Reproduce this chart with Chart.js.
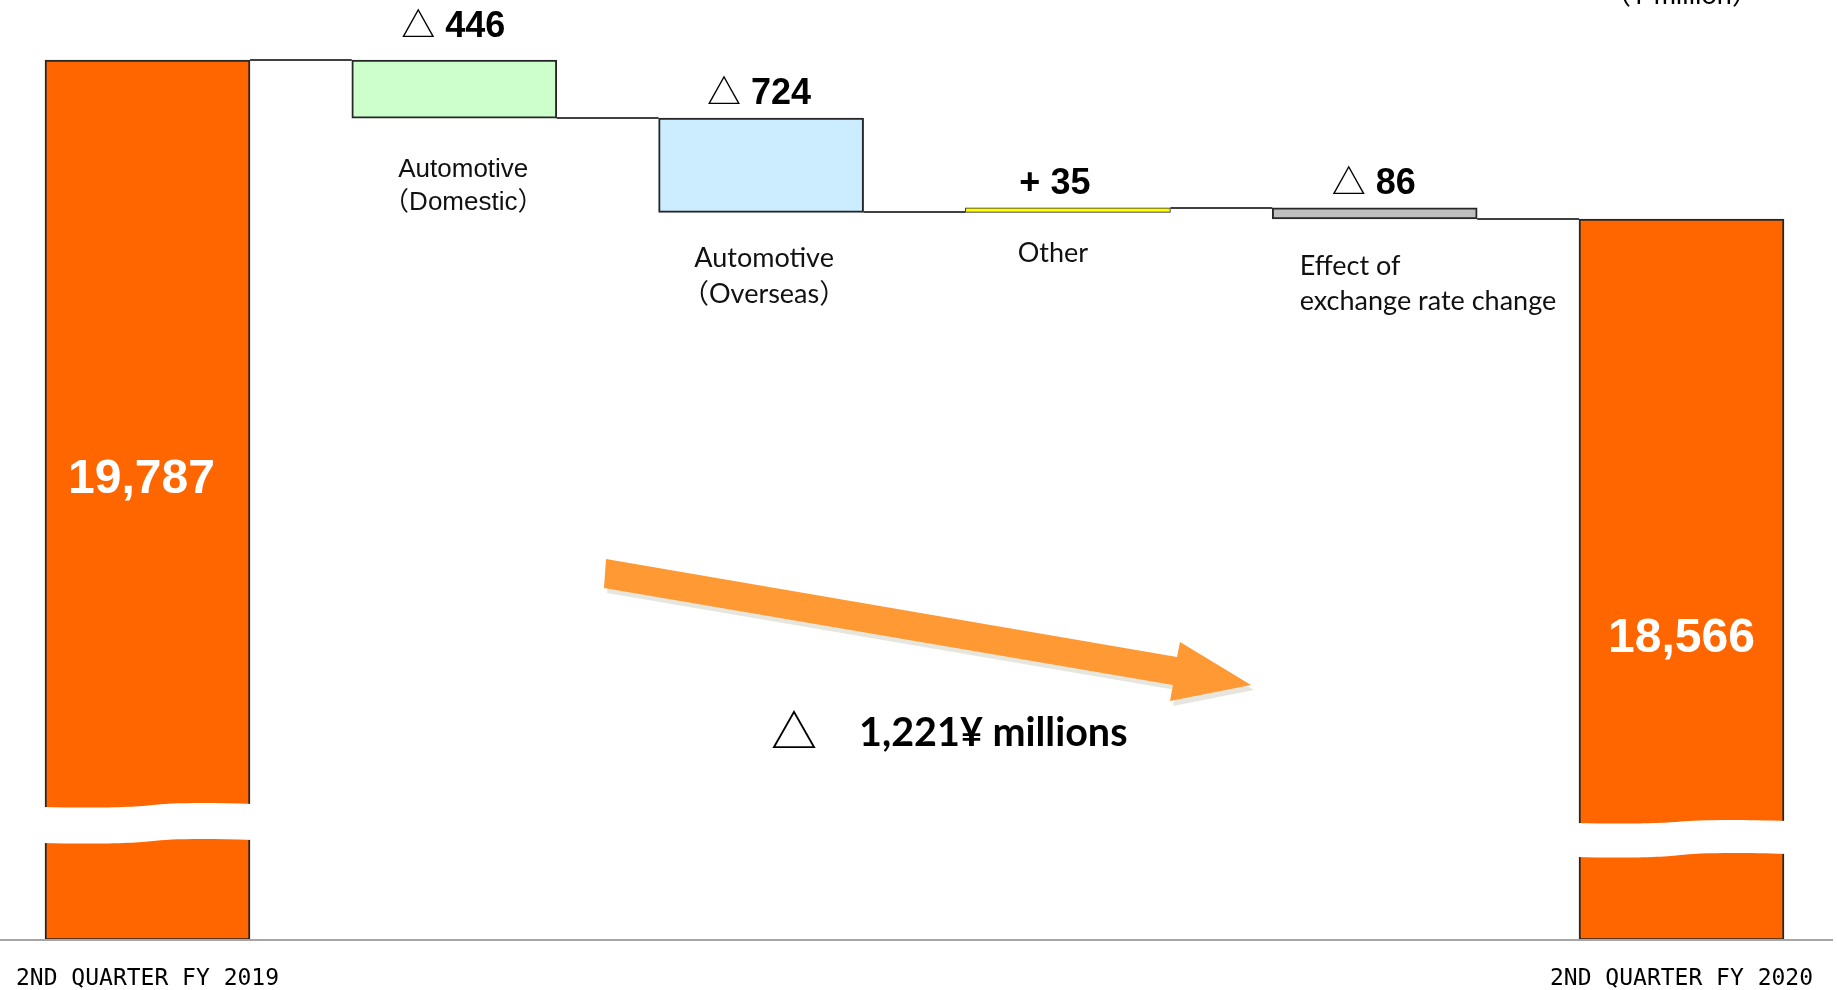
<!DOCTYPE html>
<html>
<head>
<meta charset="utf-8">
<title>Net sales bridge 2Q FY2019 to 2Q FY2020</title>
<script src="https://cdn.jsdelivr.net/npm/chart.js@4.4.1/dist/chart.umd.min.js"></script>
<style>
html,body{margin:0;padding:0;background:#ffffff;overflow:hidden;}
#wrap{position:relative;width:1837px;height:990px;}
canvas{display:block;}
</style>
</head>
<body>
<div id="wrap"><canvas id="chart" width="1837" height="990"></canvas></div>
<script>
// ---------------- data ----------------
const categories = [
  '2ND QUARTER FY 2019',
  'Automotive\n（Domestic）',
  'Automotive\n（Overseas）',
  'Other',
  'Effect of\nexchange rate change',
  '2ND QUARTER FY 2020'
];
const tickLabels = ['2ND QUARTER FY 2019', '', '', '', '', '2ND QUARTER FY 2020'];
const openingTotal = 19787;
const changes = [-446, -724, 35, -86];
const closingTotal = 18566;
const valueLabels = ['19,787', '△ 446', '△ 724', '+ 35', '△ 86', '18,566'];
const totalChangeSymbol = '△';
const totalChangeText = '1,221¥ millions';
const unitLabel = '（¥ million）';

// ---------------- derived series ----------------
const levels = [openingTotal];
changes.forEach(c => levels.push(levels[levels.length - 1] + c));
const barData = [openingTotal]
  .concat(changes.map((c, i) => [levels[i], levels[i + 1]]))
  .concat([closingTotal]);

// ---------------- styles ----------------
const Y_MIN = 13029, Y_MAX = 20248;
const barColors = ['#FF6600', '#CCFFCC', '#CCECFF', '#FFFF00', '#BFBFBF', '#FF6600'];
const barBorders = [2, 2, 2, 1, 2, 2];
const valueGap = [0, 23, 14, 14, 14, 0];
const valueDx = [-6, -1, -2, -13, -1, 0];
const insideLabelOffset = 420;
const catStyle = [
  null,
  {font: '26px "Liberation Sans", "Noto Sans CJK JP", sans-serif', align: 'center', dx: 9, dy: 59, lh: 33},
  {font: '27px Lato, "Noto Sans CJK JP", sans-serif', align: 'center', dx: 3, dy: 55, lh: 36},
  {font: '27px Lato, "Noto Sans CJK JP", sans-serif', align: 'center', dx: -15, dy: 50, lh: 31},
  {font: '27px Lato, "Noto Sans CJK JP", sans-serif', align: 'left', dx: -75, dy: 56, lh: 35},
  null
];
const breakStyle = {
  0: {top: [133, 137], bottom: [97, 101], mid: 5},
  5: {top: [117, 120], bottom: [83, 87], mid: -1}
};
const arrowPts = [[606, 559], [1177, 657], [1180, 642], [1251, 685], [1170, 701], [1173, 685], [604, 588]];

function drawValueLabel(ctx, text, cx, baseline) {
  const boldFont = 'bold 36px "Liberation Sans", Arial, sans-serif';
  const triFont = '500 34px "Noto Sans CJK JP", "DejaVu Sans", sans-serif';
  let tri = '', rest = text;
  if (text.startsWith('△')) { tri = '△'; rest = text.slice(1); }
  ctx.font = triFont;
  const tw = tri ? ctx.measureText(tri).width : 0;
  ctx.font = boldFont;
  const rw = ctx.measureText(rest).width;
  const x = cx - (tw + rw) / 2;
  ctx.fillStyle = '#000';
  ctx.textAlign = 'left';
  if (tri) {
    ctx.font = triFont;
    ctx.textBaseline = 'middle';
    ctx.fillText(tri, x, baseline - 13);
  }
  ctx.font = boldFont;
  ctx.textBaseline = 'alphabetic';
  ctx.fillText(rest, x + tw, baseline);
}

const overlay = {
  id: 'overlay',
  afterDatasetsDraw(chart) {
    const ctx = chart.ctx;
    const ys = chart.scales.y;
    const meta = chart.getDatasetMeta(0);
    const bars = meta.data.map(el => {
      const p = el.getProps(['x', 'y', 'base', 'width'], true);
      return {cx: p.x, left: p.x - p.width / 2, right: p.x + p.width / 2,
              top: Math.min(p.y, p.base), bottom: Math.max(p.y, p.base)};
    });
    ctx.save();

    // connector lines
    ctx.strokeStyle = '#404040';
    ctx.lineWidth = 2;
    for (let i = 0; i < bars.length - 1; i++) {
      const y = Math.round(ys.getPixelForValue(levels[i]));
      ctx.beginPath();
      ctx.moveTo(bars[i].right, y);
      ctx.lineTo(bars[i + 1].left, y);
      ctx.stroke();
    }

    // axis breaks on the total bars
    ctx.fillStyle = '#ffffff';
    Object.keys(breakStyle).forEach(k => {
      const b = bars[+k], s = breakStyle[k];
      const L = b.left - 3, R = b.right + 3, M = b.cx + s.mid;
      const y0 = b.bottom - s.top[0], y1 = b.bottom - s.top[1];
      const y2 = b.bottom - s.bottom[1], y3 = b.bottom - s.bottom[0];
      ctx.beginPath();
      ctx.moveTo(L, y0);
      ctx.bezierCurveTo(L + (M - L) * 0.5, y0 + 1.5, M - 14, y0, M, (y0 + y1) / 2);
      ctx.bezierCurveTo(M + 14, y1, R - (R - M) * 0.5, y1 - 1, R, y1 + 1);
      ctx.lineTo(R, y2 + 1);
      ctx.bezierCurveTo(R - (R - M) * 0.5, y2 - 1, M + 14, y2, M, (y2 + y3) / 2);
      ctx.bezierCurveTo(M - 14, y3, L + (M - L) * 0.5, y3 + 1.5, L, y3);
      ctx.closePath();
      ctx.fill();
    });

    // base line
    const baseY = Math.round(ys.getPixelForValue(Y_MIN));
    ctx.strokeStyle = '#A6A6A6';
    ctx.lineWidth = 2;
    ctx.beginPath();
    ctx.moveTo(0, baseY);
    ctx.lineTo(1833, baseY);
    ctx.stroke();

    // value labels
    bars.forEach((b, i) => {
      if (i === 0 || i === bars.length - 1) {
        ctx.font = 'bold 48px "Liberation Sans", Arial, sans-serif';
        ctx.fillStyle = '#ffffff';
        ctx.textAlign = 'center';
        ctx.textBaseline = 'middle';
        ctx.fillText(valueLabels[i], b.cx + valueDx[i], b.top + insideLabelOffset);
      } else {
        drawValueLabel(ctx, valueLabels[i], b.cx + valueDx[i], b.top - valueGap[i]);
      }
    });

    // category labels under the change bars
    bars.forEach((b, i) => {
      const st = catStyle[i];
      if (!st) return;
      ctx.font = st.font;
      ctx.fillStyle = '#111';
      ctx.textAlign = st.align;
      ctx.textBaseline = 'alphabetic';
      categories[i].split('\n').forEach((line, j) => {
        ctx.fillText(line, b.cx + st.dx, b.bottom + st.dy + j * st.lh);
      });
    });

    // trend arrow with soft shadow
    const poly = (dx, dy) => {
      ctx.beginPath();
      arrowPts.forEach((p, j) => j ? ctx.lineTo(p[0] + dx, p[1] + dy) : ctx.moveTo(p[0] + dx, p[1] + dy));
      ctx.closePath();
    };
    ctx.fillStyle = 'rgba(210,210,195,0.55)';
    poly(3, 5); ctx.fill();
    ctx.fillStyle = '#FF9933';
    poly(0, 0); ctx.fill();

    // total change text
    ctx.fillStyle = '#000';
    ctx.font = '500 46px "Noto Sans CJK JP", "DejaVu Sans", sans-serif';
    ctx.textAlign = 'center';
    ctx.textBaseline = 'middle';
    ctx.fillText(totalChangeSymbol, 794, 731);
    ctx.font = 'bold 39.5px Lato, "Open Sans", sans-serif';
    ctx.textAlign = 'left';
    ctx.textBaseline = 'alphabetic';
    ctx.fillText(totalChangeText, 859, 746);

    // unit label (partly cut by the top edge)
    ctx.font = '27px Lato, "Noto Sans CJK JP", sans-serif';
    ctx.textAlign = 'center';
    ctx.fillText(unitLabel, bars[bars.length - 1].cx, 4);

    ctx.restore();
  }
};

new Chart(document.getElementById('chart'), {
  type: 'bar',
  data: {
    labels: tickLabels,
    datasets: [{
      data: barData,
      backgroundColor: barColors,
      borderColor: '#262626',
      borderWidth: barBorders,
      borderSkipped: false,
      barThickness: 205,
      base: Y_MIN,
      clip: false
    }]
  },
  options: {
    responsive: false,
    animation: false,
    devicePixelRatio: 1,
    layout: {padding: {left: 147.5, right: 155.5, top: 0, bottom: 0}},
    plugins: {legend: {display: false}, tooltip: {enabled: false}},
    scales: {
      x: {
        offset: false,
        grid: {display: false, drawTicks: false},
        border: {display: false},
        ticks: {
          autoSkip: false, maxRotation: 0, minRotation: 0, padding: 25,
          color: '#000',
          font: {family: '"DejaVu Sans Mono", monospace', size: 23}
        },
        afterFit(s) { s.height = 50; s.paddingLeft = 0; s.paddingRight = 0; }
      },
      y: {display: false, min: Y_MIN, max: Y_MAX}
    }
  },
  plugins: [overlay]
});
</script>
</body>
</html>
